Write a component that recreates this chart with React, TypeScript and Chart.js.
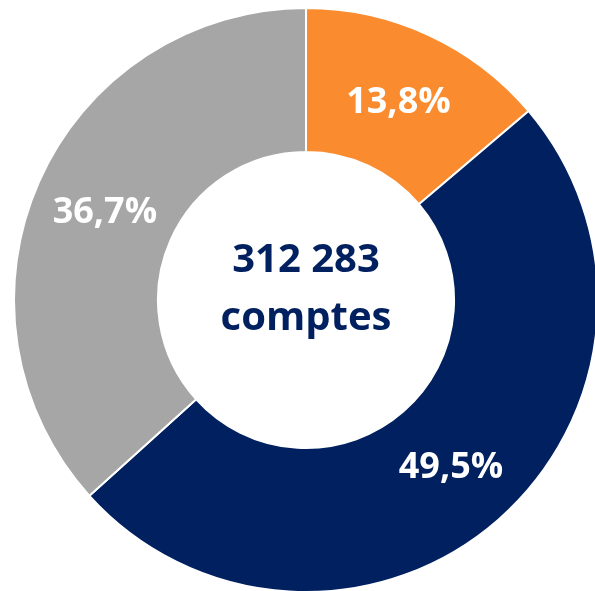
import React, { useEffect, useRef } from "react";
import { Chart, registerables } from "chart.js";

Chart.register(...registerables);

const categories = ["Segment orange", "Segment bleu", "Segment gris"];
const shares = [13.8, 49.5, 36.7];
const colors = ["#FA8C2F", "#00205F", "#A6A6A6"];
const centerLines = ["312 283", "comptes"];

const FONT = "'Open Sans', 'DejaVu Sans', sans-serif";

const labelsPlugin = {
  id: "sliceLabels",
  afterDatasetsDraw(chart: any) {
    const ctx = chart.ctx;
    const meta = chart.getDatasetMeta(0);
    ctx.save();
    ctx.fillStyle = "#FFFFFF";
    ctx.font = `bold 36px ${FONT}`;
    ctx.textAlign = "center";
    ctx.textBaseline = "middle";
    meta.data.forEach((arc: any, i: number) => {
      const p = arc.getCenterPoint();
      const txt = shares[i].toFixed(1).replace(".", ",") + "%";
      ctx.fillText(txt, p.x, p.y + 2);
    });
    const a = chart.chartArea;
    const cx = (a.left + a.right) / 2;
    const cy = (a.top + a.bottom) / 2;
    ctx.fillStyle = "#00205F";
    ctx.font = `bold 40px ${FONT}`;
    ctx.textBaseline = "alphabetic";
    ctx.fillText(centerLines[0], cx, cy - 28);
    ctx.fillText(centerLines[1], cx, cy + 30);
    ctx.restore();
  },
};

export default function App() {
  const ref = useRef<HTMLCanvasElement>(null);
  useEffect(() => {
    const chart = new Chart(ref.current as HTMLCanvasElement, {
      type: "doughnut",
      data: {
        labels: categories,
        datasets: [
          {
            data: shares,
            backgroundColor: colors,
            borderColor: "#FFFFFF",
            borderWidth: 2,
          },
        ],
      },
      options: {
        responsive: false,
        animation: false,
        cutout: "50.7%",
        layout: { padding: 0 },
        plugins: {
          legend: { display: false },
          tooltip: { enabled: false },
        },
      },
      plugins: [labelsPlugin],
    });
    return () => chart.destroy();
  }, []);
  return (
    <div
      style={{
        position: "fixed",
        left: 0,
        top: 0,
        width: 595,
        height: 591,
        overflow: "hidden",
        background: "#FFFFFF",
      }}
    >
      <canvas
        ref={ref}
        width={586}
        height={586}
        style={{ position: "absolute", left: 13, top: 7, width: 586, height: 586 }}
      />
    </div>
  );
}
